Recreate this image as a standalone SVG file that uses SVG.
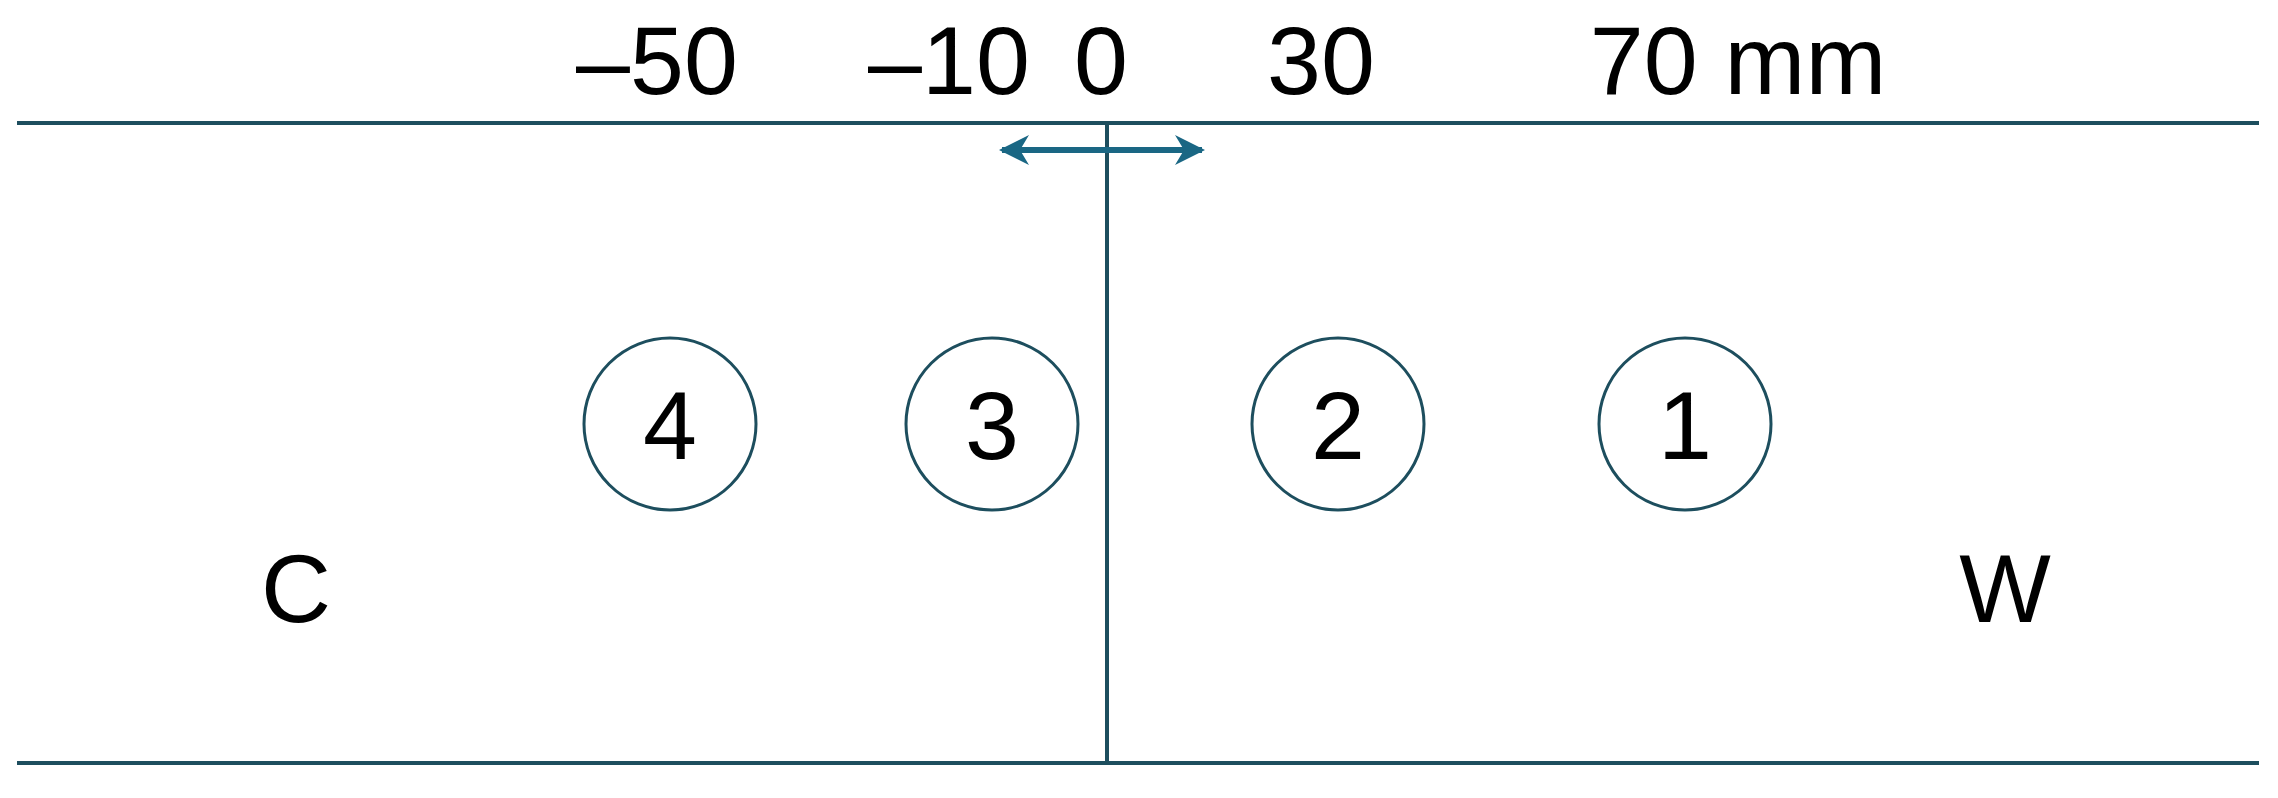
<svg xmlns="http://www.w3.org/2000/svg" width="2278" height="798" viewBox="0 0 2278 798">
<style>
.t{font-family:"Liberation Sans",Arial,sans-serif;font-size:97px;fill:#000;text-anchor:middle}
.ln{stroke:#1d4e5e;stroke-width:4;fill:none}
.c{stroke:#1d4e5e;stroke-width:3;fill:#fff}
</style>
<defs>
<marker id="ah" viewBox="0 0 10 10" refX="9" refY="5" markerWidth="5" markerHeight="5" orient="auto-start-reverse" markerUnits="strokeWidth">
<path d="M0,0 L10,5 L0,10 L3,5 z" fill="#1a6784"/>
</marker>
</defs>
<rect width="2278" height="798" fill="#fff"/>
<g id="connectors">
<line class="ln" x1="17" y1="123" x2="2259" y2="123"/>
<line class="ln" x1="17" y1="763" x2="2259" y2="763"/>
<line class="ln" x1="1107" y1="123" x2="1107" y2="763" stroke-width="3"/>
<line x1="1002" y1="150" x2="1202" y2="150" stroke="#1a6784" stroke-width="6" marker-start="url(#ah)" marker-end="url(#ah)"/>
</g>
<g id="scale">
<text class="t" x="657" y="94">–50</text>
<text class="t" x="949" y="94">–10</text>
<text class="t" x="1101" y="94">0</text>
<text class="t" x="1321" y="94">30</text>
<text class="t" x="1738" y="94">70 mm</text>
</g>
<g id="n4"><circle class="c" cx="670" cy="424" r="86"/><text class="t" x="670" y="459">4</text></g>
<g id="n3"><circle class="c" cx="992" cy="424" r="86"/><text class="t" x="992" y="459">3</text></g>
<g id="n2"><circle class="c" cx="1338" cy="424" r="86"/><text class="t" x="1338" y="459">2</text></g>
<g id="n1"><circle class="c" cx="1685" cy="424" r="86"/><text class="t" x="1685" y="459">1</text></g>
<g id="C"><text class="t" x="296" y="622">C</text></g>
<g id="W"><text class="t" x="2005" y="622">W</text></g>
</svg>
